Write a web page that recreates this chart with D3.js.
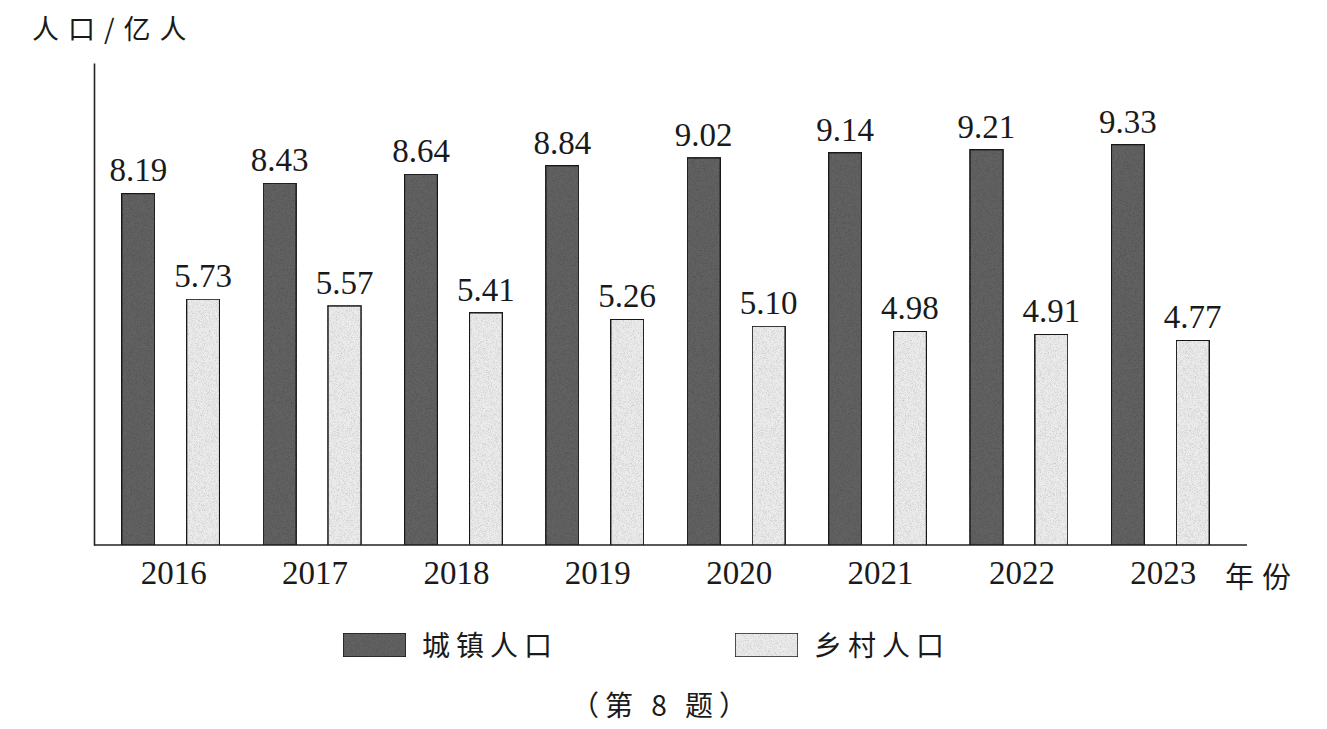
<!DOCTYPE html>
<html>
<head>
<meta charset="utf-8">
<script src="https://cdn.jsdelivr.net/npm/d3@7"></script>
<style>
  html, body { margin: 0; padding: 0; background: #ffffff; }
  svg { display: block; }
  text.serif { font-family: "Liberation Serif", "Times New Roman", serif; }
</style>
</head>
<body>
<svg id="chart" width="1327" height="729"></svg>
<script>
// ---- data ----
const years = ["2016", "2017", "2018", "2019", "2020", "2021", "2022", "2023"];
const urban = [8.19, 8.43, 8.64, 8.84, 9.02, 9.14, 9.21, 9.33];
const rural = [5.73, 5.57, 5.41, 5.26, 5.10, 4.98, 4.91, 4.77];
const seriesKeys = ["urban", "rural"];
const seriesNames = ["城镇人口", "乡村人口"];
const yTitle = "人口/亿人";
const xTitle = "年份";
const caption = "（第 8 题）";

const SERIF = "'Liberation Serif', 'Times New Roman', serif";
const CJK = "'Noto Sans CJK SC', sans-serif";
const INK = "#1a1a1a";

// ---- build ----
const rows = years.map((y, i) => ({ year: y, urban: urban[i], rural: rural[i] }));
const svg = d3.select("#chart");

const defs = svg.append("defs");
const grain = defs.append("filter").attr("id", "grain")
  .attr("x", 0).attr("y", 0).attr("width", 1).attr("height", 1);
grain.append("feTurbulence").attr("type", "fractalNoise")
  .attr("baseFrequency", 1.4).attr("numOctaves", 1).attr("seed", 3).attr("result", "noise");
grain.append("feColorMatrix").attr("in", "noise").attr("type", "matrix")
  .attr("values", "0 0 0 0 0  0 0 0 0 0  0 0 0 0 0  0 0 0 -0.8 0.45").attr("result", "dots");
grain.append("feComposite").attr("in", "dots").attr("in2", "SourceGraphic").attr("operator", "in").attr("result", "dotsIn");
grain.append("feMerge").selectAll("feMergeNode").data(["SourceGraphic", "dotsIn"]).join("feMergeNode").attr("in", d => d);

const fills = { urban: "#626262", rural: "#ececec" };

const y = d3.scaleLinear().domain([0, 11.23]).range([545, 63]);
const x0 = d3.scaleBand().domain(years).range([94, 1237]).paddingInner(0.307).paddingOuter(0.196);
const x1 = d3.scaleBand().domain(seriesKeys).range([0, x0.bandwidth()]).paddingInner(0.49).paddingOuter(0);

// y axis (line only)
svg.append("g").attr("transform", "translate(94,0)")
  .call(d3.axisLeft(y).ticks(0).tickSizeOuter(0))
  .call(g => g.select(".domain").attr("stroke", "#222").attr("stroke-width", 1.6));

// x axis
const xAxis = svg.append("g").attr("transform", "translate(0,545)")
  .call(d3.axisBottom(x0).tickSize(0).tickSizeOuter(0).tickPadding(16));
xAxis.attr("font-family", SERIF).attr("font-size", 33);
xAxis.select(".domain").remove();
xAxis.selectAll("text").attr("class", "serif").style("font-family", SERIF).style("font-size", "33px")
  .attr("dx", 3).attr("fill", INK);
svg.append("line").attr("x1", 94).attr("x2", 1247).attr("y1", 545).attr("y2", 545)
  .attr("stroke", "#222").attr("stroke-width", 1.6);

// bars
const groups = svg.append("g").attr("font-family", SERIF).attr("font-size", 33)
  .selectAll("g").data(rows).join("g")
  .attr("transform", d => `translate(${x0(d.year)},0)`);
groups.selectAll("rect").data(d => seriesKeys.map(k => ({ key: k, value: d[k] }))).join("rect")
  .attr("x", d => x1(d.key))
  .attr("y", d => y(d.value))
  .attr("width", x1.bandwidth())
  .attr("height", d => y(0) - y(d.value))
  .attr("fill", d => fills[d.key])
  .attr("filter", "url(#grain)")
  .attr("stroke", "#1e1e1e").attr("stroke-width", 1.5);
groups.selectAll("text").data(d => seriesKeys.map(k => ({ key: k, value: d[k] }))).join("text")
  .attr("class", "serif")
  .attr("x", d => x1(d.key) + x1.bandwidth() / 2)
  .attr("y", d => y(d.value) - 12)
  .attr("text-anchor", "middle")
  .style("font-family", SERIF).style("font-size", "33px").attr("fill", INK)
  .text(d => d.value.toFixed(2));

// titles
svg.append("text").attr("x", 32).attr("y", 39)
  .style("font-family", CJK).style("font-size", "27px").attr("letter-spacing", 9).attr("fill", INK)
  .text(yTitle);
svg.append("text").attr("x", 1225).attr("y", 588)
  .style("font-family", CJK).style("font-size", "29px").attr("letter-spacing", 8).attr("fill", INK)
  .text(xTitle);

// legend
const legendX = d3.scaleOrdinal().domain(seriesKeys).range([343, 735]);
const leg = svg.append("g").selectAll("g").data(seriesKeys).join("g")
  .attr("transform", d => `translate(${legendX(d)},633)`);
leg.append("rect").attr("width", 63).attr("height", 24)
  .attr("fill", d => fills[d]).attr("filter", "url(#grain)")
  .attr("stroke", "#1e1e1e").attr("stroke-width", 1.5);
leg.append("text").attr("x", 79).attr("y", 23)
  .style("font-family", CJK).style("font-size", "28px").attr("letter-spacing", 6).attr("fill", INK)
  .text((d, i) => seriesNames[i]);

// caption
svg.append("text").attr("x", 662).attr("y", 716)
  .attr("text-anchor", "middle")
  .style("font-family", CJK).style("font-size", "28px").attr("letter-spacing", 6).attr("fill", INK)
  .text(caption);
</script>
</body>
</html>
